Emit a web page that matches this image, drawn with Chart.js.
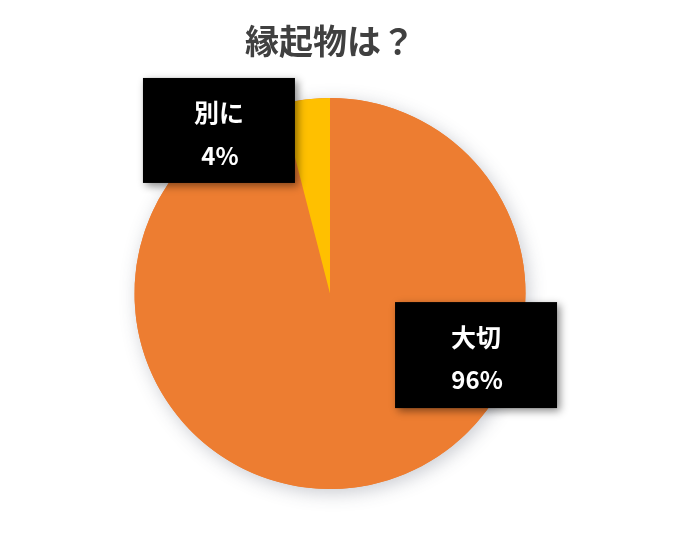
<!DOCTYPE html>
<html>
<head>
<meta charset="utf-8">
<script src="https://cdn.jsdelivr.net/npm/chart.js@4.4.0/dist/chart.umd.min.js"></script>
<style>
  html, body { margin: 0; padding: 0; background: #ffffff; }
  #wrap { width: 677px; height: 540px; }
</style>
</head>
<body>
<div id="wrap"><canvas id="c" width="677" height="540"></canvas></div>
<script>
// ---- data ----
const titleText = '縁起物は？';
const categories = ['大切', '別に'];
const values = [96, 4];
const percentLabels = ['96%', '4%'];
const sliceColors = ['#ED7D31', '#FFC000'];

// label box placement (relative to pie centre, in units of radius)
const labelBoxes = [
  { dx: 0.747, dy: 0.315, w: 162, h: 106 },
  { dx: -0.568, dy: -0.834, w: 152, h: 105 }
];

const FONT = '"Noto Sans CJK JP", "Noto Sans", sans-serif';

const pieShadow = {
  id: 'pieShadow',
  beforeDatasetsDraw(chart) {
    const meta = chart.getDatasetMeta(0);
    if (!meta.data.length) return;
    const a = meta.data[0];
    const ctx = chart.ctx;
    ctx.save();
    ctx.shadowColor = 'rgba(60,70,90,0.28)';
    ctx.shadowBlur = 18;
    ctx.shadowOffsetX = 3;
    ctx.shadowOffsetY = 4;
    ctx.beginPath();
    ctx.arc(a.x, a.y, a.outerRadius, 0, Math.PI * 2);
    ctx.fillStyle = sliceColors[0];
    ctx.fill();
    ctx.restore();
  }
};

const boxLabels = {
  id: 'boxLabels',
  afterDatasetsDraw(chart) {
    const meta = chart.getDatasetMeta(0);
    const ctx = chart.ctx;
    meta.data.forEach((arc, i) => {
      const b = labelBoxes[i];
      const r = arc.outerRadius;
      const cx = arc.x + b.dx * r;
      const cy = arc.y + b.dy * r;
      const x0 = cx - b.w / 2, y0 = cy - b.h / 2;
      ctx.save();
      ctx.shadowColor = 'rgba(0,0,0,0.45)';
      ctx.shadowBlur = 8;
      ctx.shadowOffsetX = 3;
      ctx.shadowOffsetY = 3;
      ctx.fillStyle = '#000000';
      ctx.fillRect(x0, y0, b.w, b.h);
      ctx.restore();
      ctx.save();
      ctx.fillStyle = '#ffffff';
      ctx.textAlign = 'center';
      ctx.textBaseline = 'middle';
      ctx.font = 'bold 25px ' + FONT;
      ctx.fillText(categories[i], cx, cy - 18);
      ctx.font = 'bold 24px ' + FONT;
      ctx.fillText(percentLabels[i], cx + 1, cy + 25);
      ctx.restore();
    });
  }
};

new Chart(document.getElementById('c'), {
  type: 'pie',
  data: {
    labels: categories,
    datasets: [{
      data: values,
      backgroundColor: sliceColors,
      borderWidth: 0,
      hoverOffset: 0
    }]
  },
  options: {
    responsive: false,
    animation: false,
    layout: { padding: { left: 134.5, right: 151.5, top: 0, bottom: 51 } },
    plugins: {
      legend: { display: false },
      tooltip: { enabled: false },
      title: {
        display: true,
        text: titleText,
        fullSize: false,
        color: '#404040',
        font: { family: FONT, size: 34, weight: 'bold', lineHeight: 1.2 },
        padding: { top: 21, bottom: 36.2 }
      }
    }
  },
  plugins: [pieShadow, boxLabels]
});
</script>
</body>
</html>
